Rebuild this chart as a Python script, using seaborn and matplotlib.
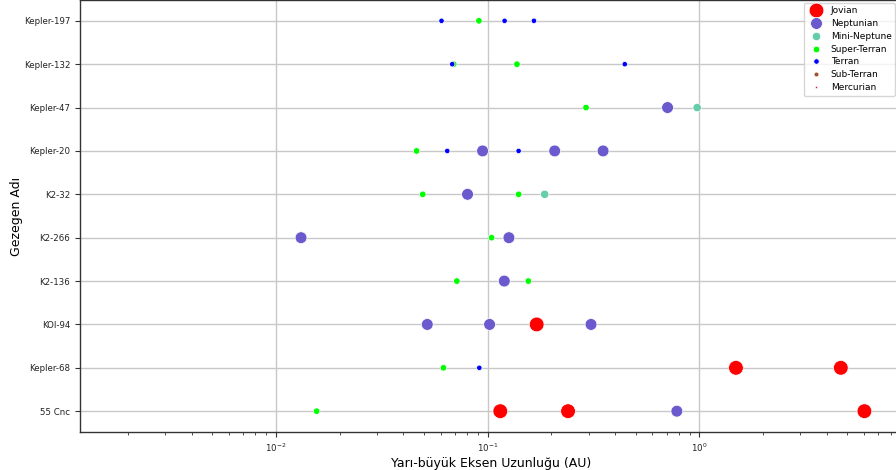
import numpy as np
import pandas as pd
import matplotlib
matplotlib.use("Agg")
import matplotlib.pyplot as plt
import seaborn as sns

# Planetary systems, top to bottom
systems = ["Kepler-197", "Kepler-132", "Kepler-47", "Kepler-20", "K2-32",
           "K2-266", "K2-136", "KOI-94", "Kepler-68", "55 Cnc"]

# Semi-major axes (AU) and size class for each planet, grouped by system
kepler197_a = [0.0606, 0.0910, 0.1203, 0.1655]
kepler197_t = ["Terran", "Super-Terran", "Terran", "Terran"]

kepler132_a = [0.0692, 0.0681, 0.1376, 0.4443]
kepler132_t = ["Super-Terran", "Terran", "Super-Terran", "Terran"]

kepler47_a = [0.2916, 0.7075, 0.976]
kepler47_t = ["Super-Terran", "Neptunian", "Mini-Neptune"]

kepler20_a = [0.0462, 0.0645, 0.0947, 0.1401, 0.2074, 0.3510]
kepler20_t = ["Super-Terran", "Terran", "Neptunian", "Terran", "Neptunian", "Neptunian"]

k232_a = [0.0494, 0.0804, 0.1401, 0.186]
k232_t = ["Super-Terran", "Neptunian", "Super-Terran", "Mini-Neptune"]

k2266_a = [0.01316, 0.1044, 0.1261]
k2266_t = ["Neptunian", "Super-Terran", "Neptunian"]

k2136_a = [0.0716, 0.1199, 0.1557]
k2136_t = ["Super-Terran", "Neptunian", "Super-Terran"]

koi94_a = [0.0519, 0.1022, 0.1705, 0.3079]
koi94_t = ["Neptunian", "Neptunian", "Jovian", "Neptunian"]

kepler68_a = [0.0619, 0.0914, 1.488, 4.653]
kepler68_t = ["Super-Terran", "Terran", "Jovian", "Jovian"]

cnc55_a = [0.01559, 0.1148, 0.2398, 0.7826, 6.015]
cnc55_t = ["Super-Terran", "Jovian", "Jovian", "Neptunian", "Jovian"]

groups = [
    (kepler197_a, kepler197_t), (kepler132_a, kepler132_t),
    (kepler47_a, kepler47_t), (kepler20_a, kepler20_t),
    (k232_a, k232_t), (k2266_a, k2266_t), (k2136_a, k2136_t),
    (koi94_a, koi94_t), (kepler68_a, kepler68_t), (cnc55_a, cnc55_t),
]

rows = []
for name, (a_vals, t_vals) in zip(systems, groups):
    for a, t in zip(a_vals, t_vals):
        rows.append({"system": name, "a": a, "type": t})
df = pd.DataFrame(rows)

classes = ["Jovian", "Neptunian", "Mini-Neptune", "Super-Terran",
           "Terran", "Sub-Terran", "Mercurian"]
palette = {
    "Jovian": "#ff0000",
    "Neptunian": "#6a5acd",
    "Mini-Neptune": "#66cdaa",
    "Super-Terran": "#00ff00",
    "Terran": "#0000ff",
    "Sub-Terran": "#a0522d",
    "Mercurian": "#dc143c",
}
sizes = {
    "Jovian": 112,
    "Neptunian": 72,
    "Mini-Neptune": 36,
    "Super-Terran": 22,
    "Terran": 15,
    "Sub-Terran": 12,
    "Mercurian": 3,
}

W, H = 896, 470
fig = plt.figure(figsize=(W / 100, H / 100), dpi=100)
ax = fig.add_axes([80 / W, 1 - 432 / H, (902 - 80) / W, 432 / H])

sns.scatterplot(
    data=df, x="a", y="system", hue="type", size="type",
    hue_order=classes, size_order=classes, palette=palette, sizes=sizes,
    edgecolor="white", linewidth=0.5, ax=ax, legend="full",
)

ax.set_xscale("log")
ax.set_xlim(0.00119, 9.05)
ax.set_ylim(9.48, -0.48)
ax.set_axisbelow(True)
ax.grid(True, which="major", color="#c8c8c8", linewidth=1.0)

for side in ["left", "bottom", "top", "right"]:
    ax.spines[side].set_color("#333333")
    ax.spines[side].set_linewidth(1.0)

ax.tick_params(axis="both", which="major", labelsize=6.2, length=3.5,
               width=0.8, color="#333333", labelcolor="#222222")
ax.tick_params(axis="x", which="minor", length=2, width=0.6, color="#333333")

ax.set_xlabel("Yarı-büyük Eksen Uzunluğu (AU)", fontsize=9, labelpad=2)
ax.set_ylabel("Gezegen Adı", fontsize=9, labelpad=0.5)

leg = ax.legend(loc="upper right", fontsize=6.5, frameon=True,
                borderaxespad=0.3, handletextpad=0.6, labelspacing=0.42,
                bbox_to_anchor=(0.995, 1.0))
leg.get_frame().set_edgecolor("#cccccc")

fig.savefig("out.png", dpi=100)
